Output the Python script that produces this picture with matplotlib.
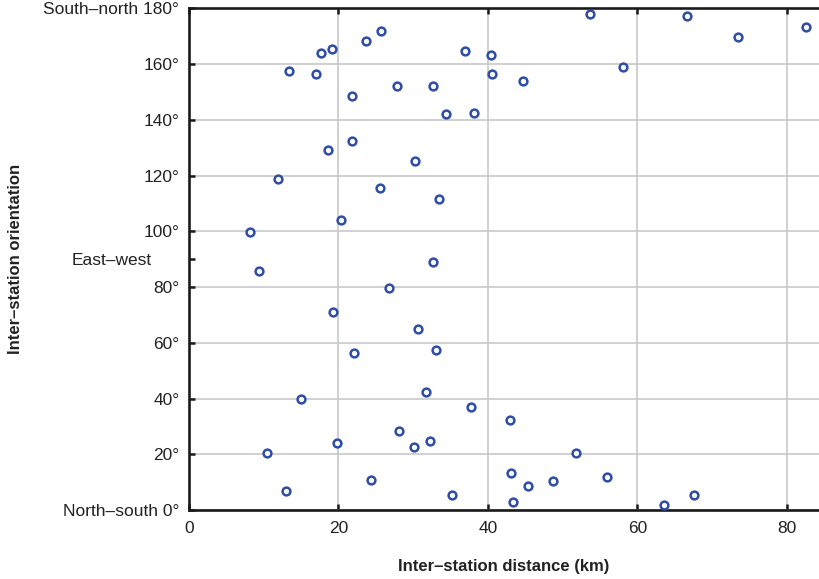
import matplotlib
matplotlib.use('Agg')
import matplotlib.pyplot as plt
from matplotlib.ticker import FixedLocator

plt.rcParams['font.family'] = ['Liberation Sans', 'DejaVu Sans']

# inter-station distance (km) and orientation (degrees)
distance = [53.7, 66.6, 82.6, 73.5, 25.7, 23.7, 19.2, 17.7, 36.9, 40.4,
            58.1, 13.4, 17.0, 40.6, 44.7, 27.8, 32.7, 21.8, 34.4, 38.2,
            21.8, 18.6, 30.3, 11.9, 25.5, 33.5, 20.3, 8.2, 32.7, 9.4,
            26.7, 19.3, 30.6, 22.1, 33.0, 31.7, 15.0, 37.7, 43.0, 28.1,
            32.3, 19.8, 30.1, 10.4, 51.8, 43.1, 55.9, 24.4, 48.7, 45.3,
            13.0, 67.6, 35.2, 43.4, 63.5]
orientation = [178.0, 177.4, 173.4, 169.6, 171.7, 168.2, 165.5, 164.0, 164.8, 163.3,
               158.8, 157.5, 156.4, 156.5, 153.9, 152.2, 152.3, 148.5, 142.0, 142.5,
               132.5, 129.0, 125.1, 118.6, 115.4, 111.6, 104.2, 99.7, 89.0, 85.6,
               79.7, 71.2, 64.8, 56.2, 57.5, 42.5, 39.8, 36.9, 32.4, 28.4,
               24.6, 23.9, 22.7, 20.4, 20.4, 13.4, 11.9, 10.8, 10.3, 8.7,
               6.7, 5.5, 5.4, 2.8, 1.8]

x_ticks = [0, 20, 40, 60, 80]
y_ticks = [0, 20, 40, 60, 80, 100, 120, 140, 160, 180]
y_labels = ['North\u2013south 0\u00b0', '20\u00b0', '40\u00b0', '60\u00b0', '80\u00b0',
            '100\u00b0', '120\u00b0', '140\u00b0', '160\u00b0', 'South\u2013north 180\u00b0']
ew_tick = [90]
ew_label = ['East\u2013west']

text_color = '#222222'

fig = plt.figure(figsize=(8.19, 5.79), dpi=100)
ax = fig.add_axes([189 / 819, 69 / 579, 630 / 819, 501.7 / 579])

ax.plot(distance, orientation, 'o', ms=5.6, mew=1.8, mfc='white',
        mec='#2e4da6', ls='none', zorder=3, clip_on=False)

ax.set_xlim(0, 84.3)
ax.set_ylim(0, 180)

ax.set_xticks(x_ticks)
ax.set_yticks(y_ticks)
ax.set_yticklabels(y_labels)
ax.yaxis.set_minor_locator(FixedLocator(ew_tick))
ax.set_yticklabels(ew_label, minor=True)

ax.grid(True, which='major', color='#c8c8c8', lw=1.2, zorder=0)
ax.set_axisbelow(True)

for side in ['left', 'bottom', 'top']:
    ax.spines[side].set_linewidth(1.9)
    ax.spines[side].set_color('#1a1a1a')
ax.spines['right'].set_visible(False)

ax.tick_params(axis='both', which='both', direction='in', length=4, width=1.8,
               color='#1a1a1a', labelsize=12.5, labelcolor=text_color)
ax.tick_params(axis='x', top=True, bottom=True, pad=8)
ax.tick_params(axis='y', which='major', left=True, right=False, pad=7)
ax.tick_params(axis='y', which='minor', left=True, right=False, pad=27)

fig.text(504 / 819, 1 - 566 / 579, 'Inter\u2013station distance (km)', ha='center',
         va='center', fontsize=12, fontweight='bold', color=text_color)
fig.text(16 / 819, 1 - 259 / 579, 'Inter\u2013station orientation', ha='center',
         va='center', rotation=90, fontsize=12, fontweight='bold', color=text_color)

fig.savefig('out.png', dpi=100)
